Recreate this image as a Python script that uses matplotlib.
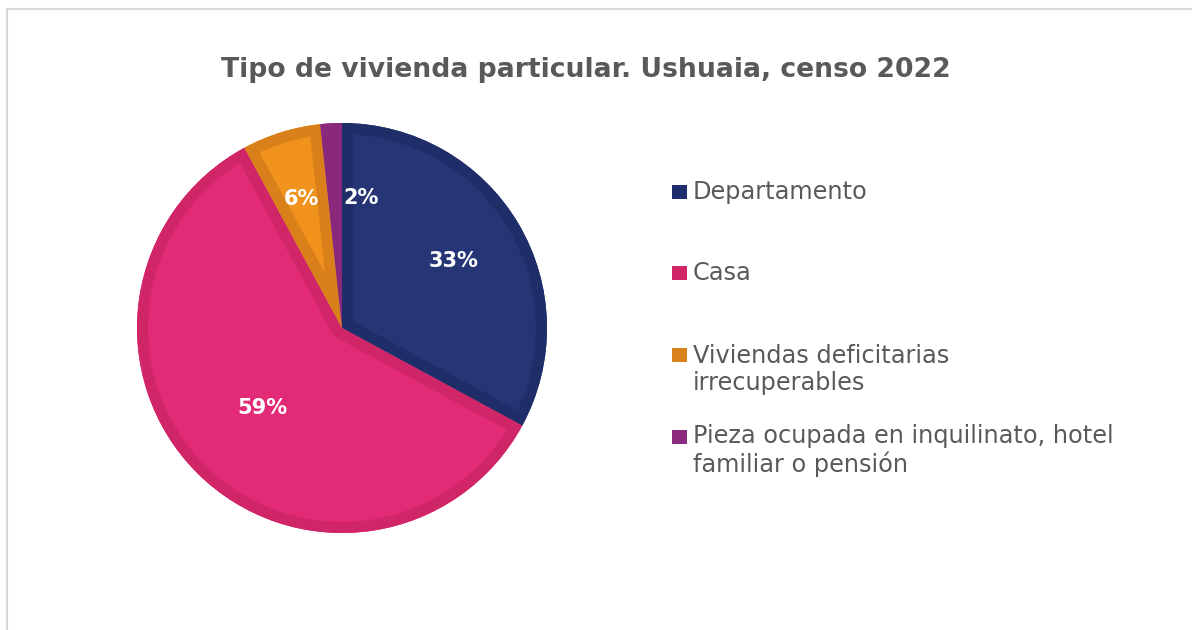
import matplotlib
matplotlib.use("Agg")
import matplotlib.pyplot as plt
from matplotlib.patches import Rectangle, Wedge
import numpy as np

categories = ["Departamento", "Casa", "Viviendas deficitarias\nirrecuperables",
              "Pieza ocupada en inquilinato, hotel\nfamiliar o pensión"]
values = [32.9, 59.2, 6.2, 1.7]
title = "Tipo de vivienda particular. Ushuaia, censo 2022"

fill_colors = ["#253575", "#e32a77", "#f0921c", "#8c2a7e"]
edge_colors = ["#1f2d68", "#d02668", "#d9801b", "#8a287c"]
legend_colors = ["#1f2d6e", "#d02668", "#d9821b", "#8c2a80"]
label_radius = [0.635, 0.55, 0.66, 0.64]
label_angle_shift = [0, 0, 0, -11.5]

W, H = 1192, 630
fig = plt.figure(figsize=(W / 100, H / 100), dpi=100)
fig.patch.set_facecolor("white")

# outer frame
frame = Rectangle((7 / W, -0.1), 1.2, (H - 9) / H + 0.1, transform=fig.transFigure,
                  fill=False, edgecolor="#d9d9d9", linewidth=1.5)
fig.patches.append(frame)

cx, cy, R = 342, 328, 205
ax = fig.add_axes([(cx - R) / W, (H - cy - R) / H, 2 * R / W, 2 * R / H])
wedges, _ = ax.pie(values, colors=fill_colors, startangle=90, counterclock=False,
                   radius=1.0, wedgeprops=dict(linewidth=0))
for w, ec in zip(wedges, edge_colors):
    border = Wedge(w.center, w.r, w.theta1, w.theta2, facecolor="none",
                   edgecolor=ec, linewidth=16, joinstyle="miter")
    ax.add_patch(border)
    border.set_clip_path(w)

total = sum(values)
for w, v, r, sh in zip(wedges, values, label_radius, label_angle_shift):
    ang = np.deg2rad((w.theta1 + w.theta2) / 2 + sh)
    ax.text(r * np.cos(ang), r * np.sin(ang), f"{round(v / total * 100):d}%",
            ha="center", va="center", color="white", fontsize=15,
            fontweight="bold", family="DejaVu Sans", zorder=5)
ax.set_xlim(-1, 1)
ax.set_ylim(-1, 1)
ax.axis("off")

fig.text(586 / W, 1 - 70 / H, title, ha="center", va="center", fontsize=19.2,
         fontweight="bold", color="#595959", family="DejaVu Sans")

# legend
marker_y = [192, 273, 355, 437]
line_h = 28
for lab, col, y in zip(categories, legend_colors, marker_y):
    fig.patches.append(Rectangle((672 / W, 1 - (y + 7) / H), 15 / W, 14 / H,
                                 transform=fig.transFigure, facecolor=col,
                                 edgecolor="none"))
    nlines = lab.count("\n") + 1
    base = y + 7 + line_h * (nlines - 1)
    fig.text(693 / W, 1 - base / H, lab, ha="left", va="baseline", fontsize=17.3,
             color="#595959", family="DejaVu Sans", linespacing=1.17)

fig.savefig("out.png", dpi=100, facecolor="white")
